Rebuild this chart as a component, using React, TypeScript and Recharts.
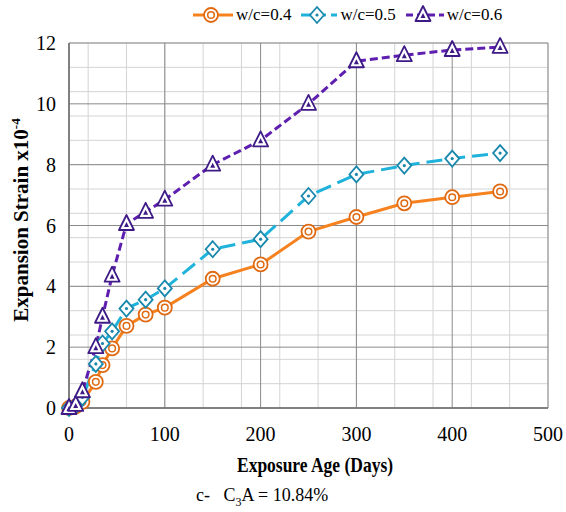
import React from "react";
import { LineChart, Line, XAxis, YAxis, CartesianGrid } from "recharts";

const days = [0, 7, 14, 28, 35, 45, 60, 80, 100, 150, 200, 250, 300, 350, 400, 450];
const wc04 = [0, 0.05, 0.2, 0.86, 1.41, 1.96, 2.7, 3.07, 3.3, 4.25, 4.72, 5.8, 6.28, 6.73, 6.93, 7.12];
const wc05 = [0, 0.08, 0.35, 1.45, 2.12, 2.52, 3.27, 3.56, 3.93, 5.22, 5.55, 6.97, 7.68, 7.97, 8.2, 8.38];
const wc06 = [0, 0.1, 0.55, 2.0, 3.0, 4.35, 6.05, 6.45, 6.85, 8.0, 8.8, 10.0, 11.4, 11.6, 11.77, 11.87];
const seriesNames = ["w/c=0.4", "w/c=0.5", "w/c=0.6"];
const xTicks = [0, 100, 200, 300, 400, 500];
const yTicks = [0, 2, 4, 6, 8, 10, 12];
const xMinor = Array.from({ length: 26 }, (_, i) => i * 20);
const yMinor = Array.from({ length: 31 }, (_, i) => +(i * 0.4).toFixed(1));

const data = days.map((d, i) => ({ day: d, a: wc04[i], b: wc05[i], c: wc06[i] }));

const C = {
  orange: "#F5821F",
  orangeDark: "#E06A12",
  blue: "#1FB3DB",
  blueDark: "#1888AD",
  purple: "#5E1FB0",
  purpleDark: "#3E1A86",
};

const FONT = "Liberation Serif, DejaVu Serif, serif";

const CircleMark = ({ cx, cy }: any) =>
  cx == null ? null : (
    <g>
      <circle cx={cx} cy={cy} r={7} fill="#fff" stroke={C.orangeDark} strokeWidth={1.8} />
      <circle cx={cx} cy={cy} r={3.3} fill="none" stroke={C.orangeDark} strokeWidth={1.5} />
    </g>
  );

const DiamondMark = ({ cx, cy }: any) =>
  cx == null ? null : (
    <g>
      <path d={`M${cx},${cy - 8} L${cx + 7},${cy} L${cx},${cy + 8} L${cx - 7},${cy} Z`} fill="#fff" stroke={C.blueDark} strokeWidth={1.8} />
      <circle cx={cx} cy={cy} r={1.6} fill={C.blueDark} />
    </g>
  );

const TriMark = ({ cx, cy }: any) =>
  cx == null ? null : (
    <g>
      <path d={`M${cx},${cy - 9} L${cx + 7.5},${cy + 6} L${cx - 7.5},${cy + 6} Z`} fill="#fff" stroke={C.purpleDark} strokeWidth={1.8} strokeLinejoin="round" />
      <path d={`M${cx},${cy - 2} L${cx + 2.5},${cy + 3} L${cx - 2.5},${cy + 3} Z`} fill={C.purpleDark} />
    </g>
  );

const legendItems = [
  { name: seriesNames[0], color: C.orange, dash: undefined, Mark: CircleMark, w: 40 },
  { name: seriesNames[1], color: C.blue, dash: "10 5", Mark: DiamondMark, w: 36 },
  { name: seriesNames[2], color: C.purple, dash: "7 4", Mark: TriMark, w: 38 },
];

const LegendBox = () => (
  <div style={{ position: "absolute", left: 193, top: 4, display: "flex", alignItems: "center", fontFamily: FONT, fontSize: 17, color: "#000" }}>
    {legendItems.map((it, i) => (
      <div key={i} style={{ display: "flex", alignItems: "center", marginRight: 10 }}>
        <svg width={it.w} height={22} style={{ marginRight: 3 }}>
          <line x1={0} y1={11} x2={it.w} y2={11} stroke={it.color} strokeWidth={3} strokeDasharray={it.dash} />
          <it.Mark cx={it.w / 2 - 2} cy={11} />
        </svg>
        <span>{it.name}</span>
      </div>
    ))}
  </div>
);

const YLabel = () => (
  <text
    transform="translate(28,220) rotate(-90)"
    textAnchor="middle"
    fontFamily={FONT}
    fontWeight="bold"
    fontSize={21}
    fill="#000"
  >
    Expansion Strain x10
    <tspan dy={-8} fontSize={13}>-4</tspan>
  </text>
);

const XLabel = () => (
  <text
    x={315}
    y={472}
    textAnchor="middle"
    fontFamily={FONT}
    fontWeight="bold"
    fontSize={21}
    fill="#000"
    textLength={156}
    lengthAdjust="spacingAndGlyphs"
  >
    Exposure Age (Days)
  </text>
);

export default function App() {
  return (
    <div style={{ position: "fixed", left: 0, top: 0, width: 566, height: 512, background: "#fff" }}>
      <LineChart width={566} height={512} data={data} margin={{ top: 43, right: 18, bottom: 74, left: 29 }}>
        <CartesianGrid stroke="#d4d4d4" strokeWidth={1} verticalValues={xMinor} horizontalValues={yMinor} />
        <CartesianGrid stroke="#8a8a8a" strokeWidth={1} verticalValues={xTicks} horizontalValues={yTicks} />
        <XAxis
          dataKey="day"
          type="number"
          domain={[0, 500]}
          ticks={xTicks}
          height={30}
          tickLine={false}
          axisLine={{ stroke: "#6e6e6e", strokeWidth: 1.5 }}
          tickMargin={13}
          tick={{ fontFamily: FONT, fontSize: 20, fill: "#000" }}
          label={<XLabel />}
        />
        <YAxis
          type="number"
          domain={[0, 12]}
          ticks={yTicks}
          width={40}
          tickLine={false}
          axisLine={{ stroke: "#6e6e6e", strokeWidth: 1.5 }}
          tickMargin={7}
          tick={{ fontFamily: FONT, fontSize: 20, fill: "#000" }}
          label={<YLabel />}
        />
        <Line dataKey="a" name={seriesNames[0]} stroke={C.orange} strokeWidth={3} dot={<CircleMark />} activeDot={false} isAnimationActive={false} />
        <Line dataKey="b" name={seriesNames[1]} stroke={C.blue} strokeWidth={3} strokeDasharray="16 7" dot={<DiamondMark />} activeDot={false} isAnimationActive={false} />
        <Line dataKey="c" name={seriesNames[2]} stroke={C.purple} strokeWidth={3} strokeDasharray="8 4" dot={<TriMark />} activeDot={false} isAnimationActive={false} />
      </LineChart>
      <LegendBox />
      <div style={{ position: "absolute", left: 196, top: 485, fontFamily: FONT, fontSize: 18, color: "#000", whiteSpace: "pre" }}>
        {"c-   C"}
        <sub style={{ fontSize: 12 }}>3</sub>
        {"A = 10.84%"}
      </div>
    </div>
  );
}
